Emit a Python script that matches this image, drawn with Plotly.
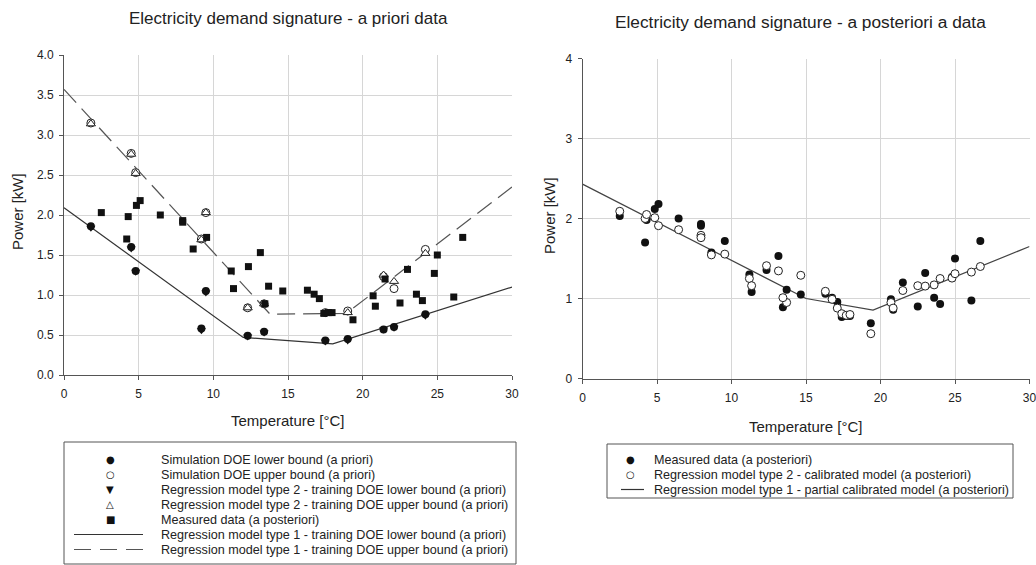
import plotly.graph_objects as go

# ---------------- data ----------------
# Left chart: a priori data
T_doe = [1.8, 4.5, 4.8, 9.2, 9.5, 12.3, 13.4, 17.5, 19.0, 21.4, 22.1, 24.2]
P_sim_lower = [1.86, 1.60, 1.30, 0.58, 1.05, 0.49, 0.54, 0.43, 0.45, 0.57, 0.60, 0.76]
P_reg2_lower = [1.84, 1.58, 1.29, 0.56, 1.03, 0.48, 0.53, 0.42, 0.43, 0.57, 0.59, 0.74]
P_sim_upper = [3.15, 2.77, 2.53, 1.70, 2.03, 0.84, 0.89, 0.78, 0.80, 1.23, 1.08, 1.57]
P_reg2_upper = [3.14, 2.76, 2.52, 1.69, 2.03, 0.84, 0.89, 0.77, 0.78, 1.25, 1.17, 1.52]

T_reg1_lower = [0, 12.0, 18.0, 30]
P_reg1_lower = [2.09, 0.47, 0.39, 1.10]
T_reg1_upper = [0, 13.8, 18.9, 30]
P_reg1_upper = [3.57, 0.76, 0.77, 2.35]

# Measured data (a posteriori), shown in both charts
T_meas = [2.5, 4.2, 4.3, 4.85, 5.1, 6.45, 7.95, 7.95, 8.65, 9.55, 11.2, 11.35,
          12.35, 13.15, 13.7, 13.45, 14.65, 16.3, 16.75, 17.1, 17.4, 17.7, 17.95,
          19.35, 20.7, 20.85, 21.5, 22.5, 23.0, 23.6, 24.0, 24.8, 25.0, 26.1, 26.7]
P_meas = [2.03, 1.70, 1.98, 2.12, 2.18, 2.00, 1.93, 1.91, 1.575, 1.72, 1.30, 1.08,
          1.355, 1.53, 1.11, 0.89, 1.05, 1.06, 1.01, 0.955, 0.77, 0.78, 0.78,
          0.69, 0.99, 0.86, 1.20, 0.90, 1.32, 1.01, 0.93, 1.27, 1.50, 0.975, 1.72]

# Right chart: regression model type 2 calibrated (same temperatures)
P_cal = [2.09, 2.00, 2.05, 2.01, 1.91, 1.86, 1.79, 1.76, 1.545, 1.555, 1.25, 1.16,
         1.41, 1.345, 0.95, 1.01, 1.29, 1.09, 0.99, 0.88, 0.81, 0.79, 0.80,
         0.56, 0.95, 0.88, 1.10, 1.16, 1.155, 1.17, 1.25, 1.255, 1.31, 1.33, 1.40]

T_reg1_cal = [0, 15.0, 19.5, 30]
P_reg1_cal = [2.43, 1.00, 0.855, 1.65]

x_ticks = [0, 5, 10, 15, 20, 25, 30]
left_title = "Electricity demand signature - a priori data"
right_title = "Electricity demand signature - a posteriori a data"
x_label = "Temperature [°C]"
y_label = "Power [kW]"
left_legend = [
    ("●", "Simulation DOE lower bound (a priori)"),
    ("○", "Simulation DOE upper bound (a priori)"),
    ("▼", "Regression model type 2 - training DOE lower bound (a priori)"),
    ("△", "Regression model type 2 - training DOE upper bound (a priori)"),
    ("■", "Measured data (a posteriori)"),
    ("solid", "Regression model type 1 - training DOE lower bound (a priori)"),
    ("dash", "Regression model type 1 - training DOE upper bound (a priori)"),
]
right_legend = [
    ("●", "Measured data (a posteriori)"),
    ("○", "Regression model type 2 - calibrated model (a posteriori)"),
    ("solid", "Regression model type 1 - partial calibrated model (a posteriori)"),
]

# ---------------- figure ----------------
W, H = 1036, 565
def px(x):
    return x / W
def py(y):
    return 1 - y / H

FONT = "Liberation Sans, Arial, sans-serif"
TXT = "#222222"
fig = go.Figure()

# left chart
fig.add_trace(go.Scatter(x=T_reg1_lower, y=P_reg1_lower, mode="lines",
                         line=dict(color="#333333", width=1.2), xaxis="x", yaxis="y"))
fig.add_trace(go.Scatter(x=T_reg1_upper, y=P_reg1_upper, mode="lines",
                         line=dict(color="#555555", width=1.2, dash="18px,8px"), xaxis="x", yaxis="y"))
fig.add_trace(go.Scatter(x=T_doe, y=P_reg2_lower, mode="markers",
                         marker=dict(symbol="triangle-down", size=8, color="#111111"), xaxis="x", yaxis="y"))
fig.add_trace(go.Scatter(x=T_doe, y=P_sim_lower, mode="markers",
                         marker=dict(symbol="circle", size=8, color="#111111"), xaxis="x", yaxis="y"))
fig.add_trace(go.Scatter(x=T_doe, y=P_sim_upper, mode="markers",
                         marker=dict(symbol="circle", size=8, color="white",
                                     line=dict(color="#222222", width=1)), xaxis="x", yaxis="y"))
fig.add_trace(go.Scatter(x=T_doe, y=P_reg2_upper, mode="markers",
                         marker=dict(symbol="triangle-up", size=8, color="white",
                                     line=dict(color="#222222", width=1)), xaxis="x", yaxis="y"))
fig.add_trace(go.Scatter(x=T_meas, y=P_meas, mode="markers",
                         marker=dict(symbol="square", size=7, color="#111111"), xaxis="x", yaxis="y"))

# right chart
fig.add_trace(go.Scatter(x=T_reg1_cal, y=P_reg1_cal, mode="lines",
                         line=dict(color="#444444", width=1.2), xaxis="x2", yaxis="y2"))
fig.add_trace(go.Scatter(x=T_meas, y=P_meas, mode="markers",
                         marker=dict(symbol="circle", size=8, color="#111111"), xaxis="x2", yaxis="y2"))
fig.add_trace(go.Scatter(x=T_meas, y=P_cal, mode="markers",
                         marker=dict(symbol="circle", size=8, color="white",
                                     line=dict(color="#222222", width=1)), xaxis="x2", yaxis="y2"))

axis_common = dict(showgrid=True, gridcolor="#d6d6d6", gridwidth=1, showline=True,
                   linecolor="#555555", linewidth=1, ticks="outside", ticklen=4,
                   tickcolor="#555555", tickfont=dict(size=12, color=TXT, family=FONT),
                   zeroline=False, fixedrange=True, automargin=False,
                   ticklabeloverflow="allow")

fig.update_layout(
    width=W, height=H, margin=dict(l=0, r=0, t=0, b=0, autoexpand=False),
    paper_bgcolor="white", plot_bgcolor="white", showlegend=False,
    font=dict(family=FONT, color=TXT),
    xaxis=dict(domain=[px(64), px(512)], range=[0, 30], tickvals=x_ticks, anchor="y",
               ticklabelstandoff=4, **axis_common),
    yaxis=dict(domain=[py(375), py(55)], range=[0, 4], dtick=0.5, tickformat=".1f",
               anchor="x", ticklabelstandoff=3, **axis_common),
    xaxis2=dict(domain=[px(582.5), px(1029.5)], range=[0, 30], tickvals=x_ticks, anchor="y2",
                ticklabelstandoff=4, **axis_common),
    yaxis2=dict(domain=[py(378.5), py(58.5)], range=[0, 4], dtick=1, anchor="x2",
                ticklabelstandoff=3, **axis_common),
)

ann = []
shapes = []

def text(t, x, y, size, angle=0, xanchor="center", family=FONT, color=TXT):
    ann.append(dict(text=t, x=px(x), y=py(y), xref="paper", yref="paper",
                    xanchor=xanchor, yanchor="middle", showarrow=False, textangle=angle,
                    font=dict(size=size, family=family, color=color)))

# titles and axis titles
text(left_title, 288, 18, 17)
text(right_title, 800, 22, 17.3)
text(x_label, 288, 420, 15)
text(x_label, 806, 426, 15)
text(y_label, 17, 212, 15, angle=-90)
text(y_label, 549, 216, 15, angle=-90)

# legends (drawn as boxed key lists)
def legend(items, box, sym_x, line_x, text_x, row0, step):
    shapes.append(dict(type="rect", xref="paper", yref="paper",
                       x0=px(box[0]), x1=px(box[1]), y0=py(box[3]), y1=py(box[2]),
                       line=dict(color="#555555", width=1), fillcolor="rgba(0,0,0,0)"))
    for i, (key, label) in enumerate(items):
        yy = row0 + i * step
        if key in ("solid", "dash"):
            shapes.append(dict(type="line", xref="paper", yref="paper",
                               x0=px(line_x[0]), x1=px(line_x[1]), y0=py(yy), y1=py(yy),
                               line=dict(color="#333333" if key == "solid" else "#555555",
                                         width=1.2, dash="solid" if key == "solid" else "17px,9px")))
        else:
            text(key, sym_x, yy, 10, family="DejaVu Sans", color="#111111")
        text(label, text_x, yy, 12.6, xanchor="left")

legend(left_legend, (64, 516, 442, 564), 110, (74, 143), 159, 459.5, 15)
legend(right_legend, (607, 1013, 444, 498), 630, (621, 644), 652, 459.5, 15)

fig.update_layout(annotations=ann, shapes=shapes)
fig.write_html("out.html", config={"displayModeBar": False},
               post_script="document.body.style.margin='0';document.body.style.overflow='hidden';")
